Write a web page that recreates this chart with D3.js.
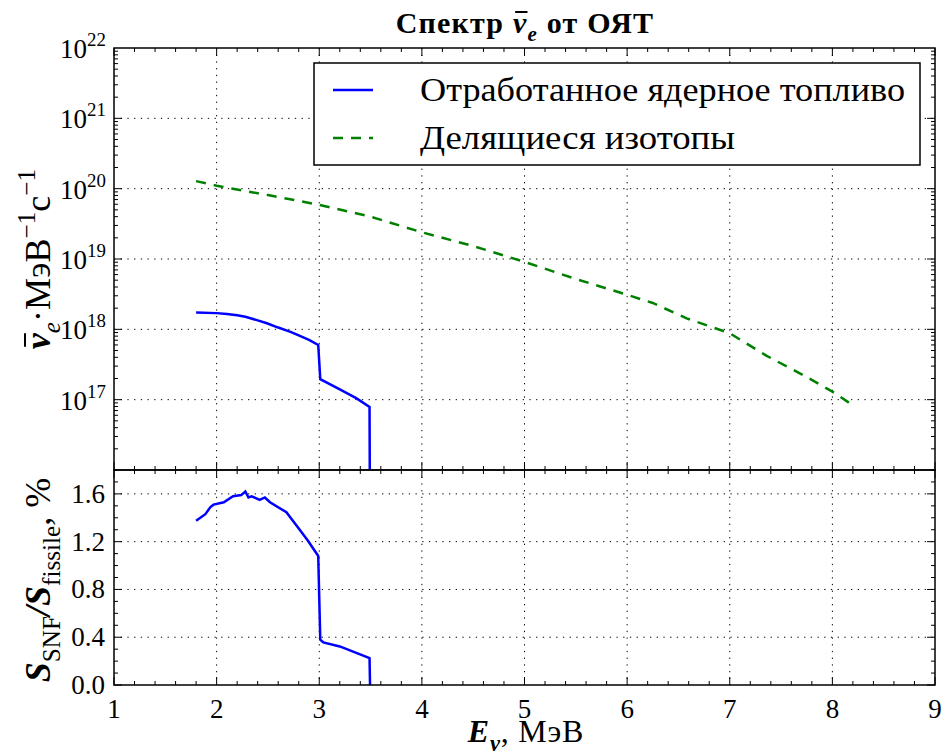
<!DOCTYPE html>
<html><head><meta charset="utf-8">
<script src="https://cdn.jsdelivr.net/npm/d3@7"></script>
</head><body style="margin:0"><svg id="c" width="942" height="752"></svg>
<script>
// ---- data ----
const energySNF = [1.80, 2.0, 2.1, 2.2, 2.28, 2.4, 2.49, 2.6, 2.72, 2.8, 2.9, 2.99, 3.01, 3.2, 3.36, 3.49, 3.495];
const fluxSNF   = [1.73e18, 1.7e18, 1.65e18, 1.58e18, 1.51e18, 1.34e18, 1.22e18, 1.06e18, 9.2e17, 8.2e17, 7.1e17, 6.0e17, 1.96e17, 1.4e17, 1.05e17, 7.9e16, 1e15];
const energyFissile = [1.8, 2.0, 2.5, 3.0, 3.5, 4.0, 4.5, 5.0, 5.5, 6.0, 6.25, 6.58, 7.0, 7.36, 7.75, 8.0, 8.17];
const fluxFissile   = [1.28e20, 1.1e20, 8.1e19, 5.9e19, 4.0e19, 2.4e19, 1.53e19, 9.1e18, 5.2e18, 3.1e18, 2.37e18, 1.43e18, 8.8e17, 4.2e17, 2.1e17, 1.3e17, 8.9e16];
const energyRatio = [1.80, 1.89, 1.94, 1.97, 2.07, 2.16, 2.24, 2.28, 2.31, 2.34, 2.42, 2.47, 2.52, 2.68, 2.78, 2.89, 2.99, 3.01, 3.04, 3.2, 3.33, 3.49, 3.495];
const ratioPercent = [1.375, 1.43, 1.49, 1.51, 1.53, 1.58, 1.59, 1.62, 1.57, 1.58, 1.55, 1.57, 1.53, 1.446, 1.333, 1.207, 1.08, 0.379, 0.356, 0.323, 0.28, 0.225, 0];
const xTicks = [1, 2, 3, 4, 5, 6, 7, 8, 9];
const yTopExponents = [17, 18, 19, 20, 21, 22];
const yBotTicks = [0.0, 0.4, 0.8, 1.2, 1.6];
const legendLabels = ["Отработанное ядерное топливо", "Делящиеся изотопы"];

// ---- layout ----
const FONT = ["Liberation", "Serif"].join(" ");
const L = 114, R = 935, T = 48, M = 470, B = 685;
const svg = d3.select("#c");

const x = d3.scaleLinear().domain([1, 9]).range([L, R]);
const yTop = d3.scaleLog().domain([1e16, 1e22]).range([M, T]);
const yBot = d3.scaleLinear().domain([0, 1.8]).range([B, M]);

const defs = svg.append("defs");
defs.append("clipPath").attr("id", "clipTop").append("rect").attr("x", L).attr("y", T).attr("width", R - L).attr("height", M - T);
defs.append("clipPath").attr("id", "clipBot").append("rect").attr("x", L).attr("y", M).attr("width", R - L).attr("height", B - M);

function txt(parent) { return parent.append("text").attr("font-family", FONT).attr("fill", "#000"); }

function rich(parent, segs, size, anchor) {
  const t = txt(parent).attr("text-anchor", anchor || "middle").attr("font-size", size);
  let shift = 0;
  segs.forEach(s => {
    const target = s.sh === "sub" ? 0.28 * size : s.sh === "sup" ? -0.42 * size : 0;
    const sp = t.append("tspan").text(s.t)
      .attr("font-weight", s.b ? "bold" : "normal")
      .attr("font-style", s.i ? "italic" : "normal")
      .attr("font-size", s.sh ? size * 0.7 : size);
    if (target !== shift) sp.attr("dy", target - shift);
    shift = target;
  });
  return t;
}
const overlineJobs = [];
function overline(parent, textSel, idx, off) { overlineJobs.push([parent, textSel, idx, off]); }
function drawOverlines() {
  overlineJobs.forEach(([parent, textSel, idx, off]) => {
    const e = textSel.node().getExtentOfChar(idx);
    parent.append("line").attr("x1", e.x + e.width * 0.15).attr("x2", e.x + e.width * 1.0)
      .attr("y1", e.y + off).attr("y2", e.y + off).attr("stroke", "#000").attr("stroke-width", 2);
  });
}

// ---- grids ----
const dot = "1.3,5.4";
const grid = svg.append("g").attr("stroke", "#000").attr("stroke-width", 1).attr("stroke-dasharray", dot);
xTicks.slice(1, -1).forEach(v => {
  grid.append("line").attr("x1", x(v)).attr("x2", x(v)).attr("y1", T).attr("y2", M);
  grid.append("line").attr("x1", x(v)).attr("x2", x(v)).attr("y1", M).attr("y2", B);
});
yTopExponents.slice(0, -1).forEach(e => {
  grid.append("line").attr("x1", L).attr("x2", R).attr("y1", yTop(Math.pow(10, e))).attr("y2", yTop(Math.pow(10, e)));
});
yBotTicks.slice(1).forEach(v => {
  grid.append("line").attr("x1", L).attr("x2", R).attr("y1", yBot(v)).attr("y2", yBot(v));
});

// ---- data lines ----
const lineTop = d3.line().x(d => x(d[0])).y(d => yTop(d[1]));
const lineBot = d3.line().x(d => x(d[0])).y(d => yBot(d[1]));
const gTop = svg.append("g").attr("clip-path", "url(#clipTop)");
gTop.append("path").datum(d3.zip(energyFissile, fluxFissile)).attr("d", lineTop)
  .attr("fill", "none").attr("stroke", "#008000").attr("stroke-width", 2.5).attr("stroke-dasharray", "10,8");
gTop.append("path").datum(d3.zip(energySNF, fluxSNF)).attr("d", lineTop)
  .attr("fill", "none").attr("stroke", "#0000ff").attr("stroke-width", 2.5);
const gBot = svg.append("g").attr("clip-path", "url(#clipBot)");
gBot.append("path").datum(d3.zip(energyRatio, ratioPercent)).attr("d", lineBot)
  .attr("fill", "none").attr("stroke", "#0000ff").attr("stroke-width", 2.5);

// ---- ticks ----
const tk = svg.append("g").attr("stroke", "#000").attr("stroke-width", 1);
d3.range(1, 9.001, 0.2).forEach(v => {
  const major = Math.abs(v - Math.round(v)) < 1e-6;
  const len = major ? 8 : 4;
  [[T, 1], [M, -1], [M, 1], [B, -1]].forEach(([yy, dir]) => {
    tk.append("line").attr("x1", x(v)).attr("x2", x(v)).attr("y1", yy).attr("y2", yy + dir * len);
  });
});
for (let e = 16; e < 22; e++) {
  for (let m = 1; m < 10; m++) {
    if (m === 1 && e === 16) continue;
    const v = m * Math.pow(10, e);
    const len = m === 1 ? 8 : 4;
    tk.append("line").attr("x1", L).attr("x2", L + len).attr("y1", yTop(v)).attr("y2", yTop(v));
    tk.append("line").attr("x1", R).attr("x2", R - len).attr("y1", yTop(v)).attr("y2", yTop(v));
  }
}
d3.range(0, 1.801, 0.1).forEach(v => {
  const major = Math.abs(v * 10 / 4 - Math.round(v * 10 / 4)) < 1e-6;
  const len = major ? 8 : 4;
  tk.append("line").attr("x1", L).attr("x2", L + len).attr("y1", yBot(v)).attr("y2", yBot(v));
  tk.append("line").attr("x1", R).attr("x2", R - len).attr("y1", yBot(v)).attr("y2", yBot(v));
});

// frames
svg.append("rect").attr("x", L).attr("y", T).attr("width", R - L).attr("height", M - T)
  .attr("fill", "none").attr("stroke", "#000").attr("stroke-width", 1.5);
svg.append("rect").attr("x", L).attr("y", M).attr("width", R - L).attr("height", B - M)
  .attr("fill", "none").attr("stroke", "#000").attr("stroke-width", 1.5);

// ---- tick labels ----
const TS = 27;
xTicks.forEach(v => {
  txt(svg).attr("x", x(v)).attr("y", 718).attr("text-anchor", "middle").attr("font-size", TS).text(v);
});
yBotTicks.forEach(v => {
  txt(svg).attr("x", 105).attr("y", yBot(v) + 9).attr("text-anchor", "end").attr("font-size", TS).text(v.toFixed(1));
});
yTopExponents.forEach(e => {
  const t = txt(svg).attr("x", 106).attr("y", yTop(Math.pow(10, e)) + 10).attr("text-anchor", "end").attr("font-size", TS);
  t.append("tspan").text("10");
  t.append("tspan").text(e).attr("font-size", TS * 0.7).attr("dy", -12);
});

// ---- title ----
const title = rich(svg, [
  {t: "Спектр ", b: 1}, {t: "ν", b: 1, i: 1}, {t: "e", b: 1, i: 1, sh: "sub"}, {t: " от ОЯТ", b: 1}
], 30).attr("x", 525).attr("y", 33).attr("letter-spacing", 1.2);
overline(svg, title, 7, 6);

// ---- axis labels ----
rich(svg, [
  {t: "E", b: 1, i: 1}, {t: "ν", b: 1, i: 1, sh: "sub"}, {t: ", МэВ"}
], 32).attr("x", 526).attr("y", 742).attr("letter-spacing", 0.8);

const gy1 = svg.append("g").attr("transform", "translate(50,259) rotate(-90)");
const yl1 = rich(gy1, [
  {t: "ν", b: 1, i: 1}, {t: "e", i: 1, sh: "sub"}, {t: "·МэВ"}, {t: "−1", sh: "sup"}, {t: "с"}, {t: "−1", sh: "sup"}
], 36);
overline(gy1, yl1, 0, 7);

const gy2 = svg.append("g").attr("transform", "translate(50,580) rotate(-90)");
rich(gy2, [
  {t: "S", b: 1, i: 1}, {t: "SNF", sh: "sub"}, {t: "/", b: 1, i: 1}, {t: "S", b: 1, i: 1}, {t: "fissile", sh: "sub"}, {t: ", %"}
], 36);

// ---- legend ----
const lg = svg.append("g");
lg.append("rect").attr("x", 314).attr("y", 63).attr("width", 606).attr("height", 102)
  .attr("fill", "#fff").attr("stroke", "#000").attr("stroke-width", 1.5);
lg.append("line").attr("x1", 333).attr("x2", 373).attr("y1", 90).attr("y2", 90)
  .attr("stroke", "#0000ff").attr("stroke-width", 2.5);
lg.append("line").attr("x1", 333).attr("x2", 373).attr("y1", 138).attr("y2", 138)
  .attr("stroke", "#008000").attr("stroke-width", 2.5).attr("stroke-dasharray", "10,8");
txt(lg).attr("x", 420).attr("y", 101).attr("font-size", 33).attr("textLength", 485).attr("lengthAdjust", "spacingAndGlyphs").text(legendLabels[0]);
txt(lg).attr("x", 420).attr("y", 149).attr("font-size", 33).attr("textLength", 315).attr("lengthAdjust", "spacingAndGlyphs").text(legendLabels[1]);

if (document.fonts && document.fonts.ready) {
  document.fonts.ready.then(() => requestAnimationFrame(drawOverlines));
} else { drawOverlines(); }
</script></body></html>
